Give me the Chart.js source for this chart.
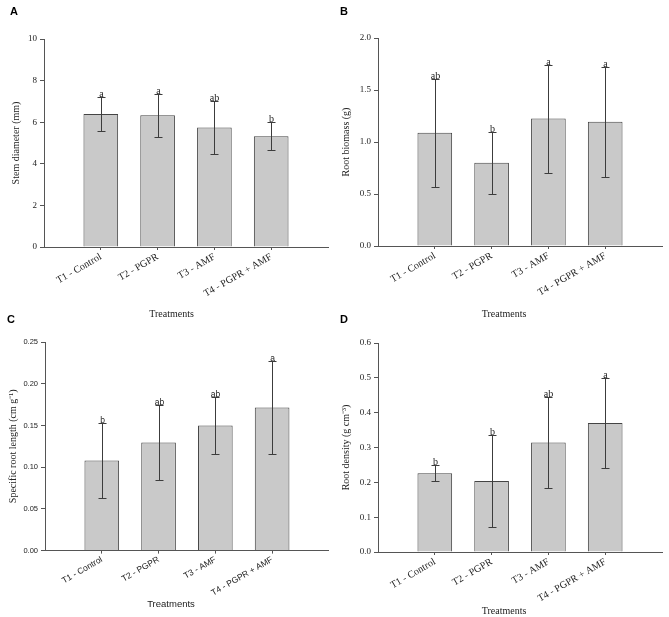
<!DOCTYPE html>
<html>
<head>
<meta charset="utf-8">
<script src="https://cdn.jsdelivr.net/npm/chart.js@4.4.0/dist/chart.umd.min.js"></script>
<style>
  html, body { margin: 0; padding: 0; background: #fff; }
  #wrap { position: relative; width: 669px; height: 617px; overflow: hidden; }
  .panel { position: absolute; }
</style>
</head>
<body>
<div id="wrap">
  <div class="panel" style="left:0;top:0"><canvas id="chartA" width="335" height="320"></canvas></div>
  <div class="panel" style="left:335px;top:0"><canvas id="chartB" width="334" height="320"></canvas></div>
  <div class="panel" style="left:0;top:305px"><canvas id="chartC" width="335" height="312"></canvas></div>
  <div class="panel" style="left:335px;top:305px"><canvas id="chartD" width="334" height="312"></canvas></div>
</div>
<script>
// treatments
const categories = ['T1 - Control', 'T2 - PGPR', 'T3 - AMF', 'T4 - PGPR + AMF'];

// A - stem diameter (mm)
const stemMean = [6.40, 6.34, 5.75, 5.32];
const stemSd = [0.81, 1.03, 1.26, 0.67];
const stemSig = ['a', 'a', 'ab', 'b'];

// B - root biomass (g)
const biomassMean = [1.09, 0.80, 1.225, 1.195];
const biomassSd = [0.52, 0.30, 0.52, 0.53];
const biomassSig = ['ab', 'b', 'a', 'a'];

// C - specific root length (cm g-1)
const srlMean = [0.108, 0.1295, 0.150, 0.1715];
const srlSd = [0.0445, 0.0445, 0.034, 0.0555];
const srlSig = ['b', 'ab', 'ab', 'a'];

// D - root density (g cm-3)
const densMean = [0.226, 0.204, 0.314, 0.370];
const densSd = [0.0225, 0.131, 0.131, 0.130];
const densSig = ['b', 'b', 'ab', 'a'];

const SERIF = '"Liberation Serif", "Times New Roman", serif';
const SANS = '"Liberation Sans", Arial, sans-serif';

// empty slot on each side so bars sit like the original
const pad = a => [null, ...a, null];

const errorBars = {
  id: 'errorBars',
  afterDatasetsDraw(chart) {
    const ds = chart.data.datasets[0];
    const meta = chart.getDatasetMeta(0);
    const y = chart.scales.y;
    const ctx = chart.ctx;
    ctx.save();
    ctx.strokeStyle = '#3c3c3c';
    ctx.lineWidth = 1;
    ctx.fillStyle = '#222';
    ctx.font = ds.sigFont;
    ctx.textAlign = 'center';
    ctx.textBaseline = 'alphabetic';
    meta.data.forEach((bar, i) => {
      const m = ds.data[i];
      if (m == null) return;
      const e = ds.errors[i];
      const x = Math.round(bar.x) + 0.5;
      const yt = Math.round(y.getPixelForValue(m + e)) + 0.5;
      const yb = Math.round(y.getPixelForValue(m - e)) + 0.5;
      ctx.beginPath();
      ctx.moveTo(x, yt); ctx.lineTo(x, yb);
      ctx.moveTo(x - 4, yt); ctx.lineTo(x + 4, yt);
      ctx.moveTo(x - 4, yb); ctx.lineTo(x + 4, yb);
      ctx.stroke();
      ctx.fillText(ds.sig[i], x, yt - 1);
    });
    ctx.restore();
  }
};

function makePanel(id, p) {
  const tickFam = p.sans ? SANS : SERIF;
  new Chart(document.getElementById(id), {
    type: 'bar',
    data: {
      labels: ['', ...categories, ''],
      datasets: [{
        data: pad(p.mean),
        errors: pad(p.sd),
        sig: pad(p.sig),
        sigFont: (p.sans ? '8.5px ' : '10px ') + tickFam,
        backgroundColor: '#c9c9c9',
        borderColor: '#444',
        borderWidth: 1,
        barPercentage: 0.61,
        categoryPercentage: 1
      }]
    },
    options: {
      responsive: false,
      animation: false,
      devicePixelRatio: 1,
      layout: { padding: { left: p.padLeft, right: p.padRight, top: 0, bottom: 0 } },
      plugins: {
        legend: { display: false },
        tooltip: { enabled: false },
        title: {
          display: true,
          text: p.letter,
          align: 'start',
          color: '#000',
          font: { family: SANS, size: 11, weight: 'bold', lineHeight: 1.2 },
          padding: { top: p.titleTop, bottom: p.titleBottom }
        },
        subtitle: {
          display: true,
          text: 'Treatments',
          position: 'bottom',
          color: '#222',
          font: { family: p.sans ? SANS : SERIF, size: p.sans ? 9.5 : 10, lineHeight: 1.2 },
          padding: { top: 0, bottom: p.subBottom }
        }
      },
      scales: {
        x: {
          type: 'category',
          offset: false,
          afterFit: s => { s.height = p.xHeight; },
          grid: {
            offset: false,
            drawOnChartArea: false,
            tickLength: 3,
            tickColor: c => (c.index > 0 && c.index < 5) ? '#555' : 'rgba(0,0,0,0)'
          },
          border: { color: '#555', width: 1 },
          ticks: {
            autoSkip: false,
            minRotation: 30,
            maxRotation: 30,
            padding: 1,
            color: '#222',
            font: { family: tickFam, size: p.sans ? 8.5 : 10 }
          }
        },
        y: {
          min: 0,
          max: p.yMax,
          afterFit: s => { s.width = p.yWidth; },
          grid: { drawOnChartArea: false, tickLength: 4, tickColor: '#555' },
          border: { color: '#555', width: 1 },
          ticks: {
            stepSize: p.yStep,
            padding: 3,
            color: '#222',
            font: { family: tickFam, size: p.sans ? 7.5 : 9 },
            callback: v => Number(v).toFixed(p.decimals)
          },
          title: {
            display: true,
            text: p.yTitle,
            color: '#222',
            padding: 0,
            font: { family: SERIF, size: 10 }
          }
        }
      }
    },
    plugins: [errorBars]
  });
}

makePanel('chartA', {
  letter: 'A', mean: stemMean, sd: stemSd, sig: stemSig,
  yTitle: 'Stem diameter (mm)', yMax: 10, yStep: 2, decimals: 0,
  padLeft: 10, padRight: 2, yWidth: 34, titleTop: 5, titleBottom: 20.8, xHeight: 61, subBottom: 0
});
makePanel('chartB', {
  letter: 'B', mean: biomassMean, sd: biomassSd, sig: biomassSig,
  yTitle: 'Root biomass (g)', yMax: 2, yStep: 0.5, decimals: 1,
  padLeft: 5, padRight: 1, yWidth: 38, titleTop: 5, titleBottom: 19.8, xHeight: 62, subBottom: 0
});
makePanel('chartC', {
  letter: 'C', mean: srlMean, sd: srlSd, sig: srlSig, sans: true,
  yTitle: 'Specific root length (cm g\u207B\u00B9)', yMax: 0.25, yStep: 0.05, decimals: 2,
  padLeft: 7, padRight: 0, yWidth: 38, titleTop: 8.4, titleBottom: 15.4, xHeight: 48, subBottom: 7
});
makePanel('chartD', {
  letter: 'D', mean: densMean, sd: densSd, sig: densSig,
  yTitle: 'Root density (g cm\u207B\u00B3)', yMax: 0.6, yStep: 0.1, decimals: 1,
  padLeft: 5, padRight: 1, yWidth: 38, titleTop: 8.4, titleBottom: 16.4, xHeight: 53, subBottom: 0
});
</script>
</body>
</html>
